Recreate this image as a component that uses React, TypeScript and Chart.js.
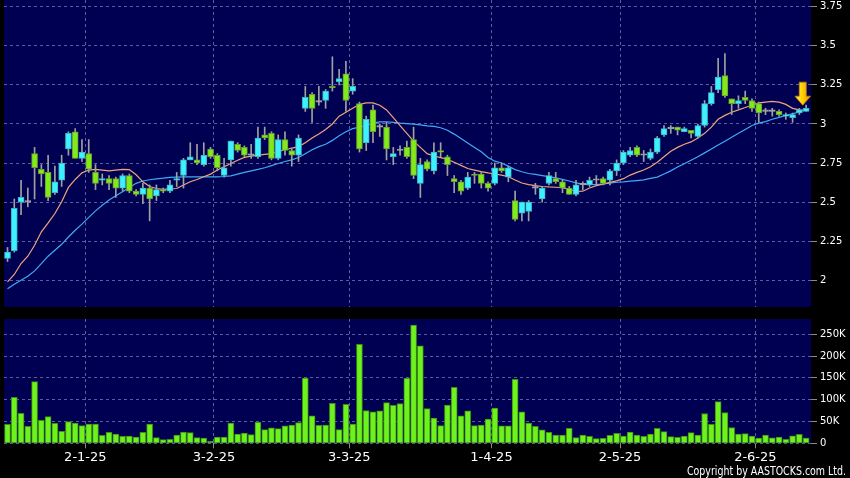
import React, { useEffect, useRef } from "react";
import { Chart, registerables } from "chart.js";

Chart.register(...registerables);

// ---- data (one entry per trading day, index 0..118) ----
const opens = [
  2.14, 2.19, 2.5, 2.5, 2.81, 2.71, 2.69, 2.56, 2.64, 2.84,
  2.95, 2.78, 2.81, 2.69, 2.64, 2.65, 2.65, 2.59, 2.67, 2.57,
  2.55, 2.59, 2.54, 2.58, 2.57, 2.64, 2.67, 2.77, 2.77, 2.74,
  2.84, 2.8, 2.67, 2.77, 2.87, 2.85, 2.8, 2.79, 2.93, 2.94,
  2.78, 2.9, 2.83, 2.8, 3.1, 3.19, 3.14, 3.15, 3.24, 3.27,
  3.32, 3.21, 3.13, 2.88, 3.09, 2.98, 2.98, 2.79, 2.83, 2.85,
  2.9, 2.62, 2.76, 2.7, 2.83, 2.79, 2.65, 2.63, 2.59, 2.68,
  2.68, 2.62, 2.62, 2.72, 2.66, 2.51, 2.43, 2.44, 2.59, 2.52,
  2.62, 2.65, 2.63, 2.59, 2.55, 2.61, 2.61, 2.64, 2.65, 2.64,
  2.7, 2.75, 2.8, 2.85, 2.8, 2.78, 2.82, 2.93, 2.97, 2.98,
  2.95, 2.96, 2.92, 2.99, 3.13, 3.22, 3.31, 3.16, 3.13, 3.17,
  3.15, 3.13, 3.08, 3.08, 3.08, 3.05, 3.04, 3.07, 3.08,
];
const highs = [
  2.21, 2.52, 2.64, 2.59, 2.85, 2.74, 2.8, 2.73, 2.8, 2.95,
  2.97, 2.9, 2.9, 2.74, 2.68, 2.67, 2.66, 2.68, 2.68, 2.58,
  2.62, 2.61, 2.61, 2.59, 2.64, 2.69, 2.78, 2.88, 2.87, 2.88,
  2.85, 2.81, 2.78, 2.89, 2.88, 2.86, 2.87, 2.98, 2.98, 2.95,
  2.93, 2.95, 2.84, 2.93, 3.24, 3.2, 3.24, 3.22, 3.43, 3.35,
  3.4, 3.29, 3.14, 3.05, 3.12, 3.0, 3.01, 2.85, 2.86, 2.89,
  2.98, 2.78, 2.77, 2.88, 2.88, 2.8, 2.67, 2.64, 2.69, 2.69,
  2.69, 2.63, 2.75, 2.75, 2.73, 2.57, 2.5, 2.51, 2.62, 2.6,
  2.69, 2.69, 2.64, 2.6, 2.64, 2.63, 2.66, 2.67, 2.66, 2.71,
  2.77, 2.83, 2.85, 2.86, 2.83, 2.84, 2.92, 2.99, 2.99, 2.98,
  2.98, 2.96, 3.0, 3.15, 3.24, 3.42, 3.45, 3.16, 3.18, 3.21,
  3.16, 3.14, 3.1, 3.1, 3.09, 3.07, 3.07, 3.1, 3.12,
];
const lows = [
  2.12, 2.18, 2.42, 2.47, 2.52, 2.6, 2.51, 2.55, 2.6, 2.8,
  2.78, 2.76, 2.69, 2.58, 2.61, 2.58, 2.53, 2.57, 2.56, 2.54,
  2.49, 2.38, 2.51, 2.56, 2.56, 2.6, 2.59, 2.77, 2.74, 2.73,
  2.78, 2.7, 2.66, 2.73, 2.82, 2.79, 2.78, 2.78, 2.9, 2.77,
  2.77, 2.8, 2.73, 2.76, 3.08, 3.01, 3.12, 3.1, 3.21, 3.25,
  3.08, 3.19, 2.82, 2.83, 2.88, 2.92, 2.77, 2.74, 2.8, 2.78,
  2.65, 2.53, 2.7, 2.68, 2.79, 2.67, 2.56, 2.55, 2.58, 2.62,
  2.59, 2.57, 2.61, 2.69, 2.63, 2.38, 2.38, 2.38, 2.55, 2.5,
  2.61, 2.62, 2.56, 2.55, 2.54, 2.58, 2.6, 2.61, 2.61, 2.61,
  2.67, 2.74, 2.79, 2.79, 2.76, 2.77, 2.81, 2.92, 2.94, 2.93,
  2.95, 2.91, 2.91, 2.98, 3.12, 3.2, 3.17, 3.06, 3.1, 3.13,
  3.08, 3.01, 3.06, 3.05, 3.05, 3.03, 3.01, 3.06, 3.08,
];
const closes = [
  2.18, 2.46, 2.53, 2.5, 2.72, 2.68, 2.53, 2.63, 2.75, 2.94,
  2.78, 2.82, 2.71, 2.62, 2.65, 2.62, 2.59, 2.67, 2.57, 2.55,
  2.59, 2.52, 2.58, 2.57, 2.61, 2.65, 2.77, 2.79, 2.75, 2.8,
  2.79, 2.72, 2.72, 2.89, 2.83, 2.8, 2.8, 2.91, 2.91, 2.78,
  2.9, 2.83, 2.8, 2.91, 3.17, 3.1, 3.14, 3.21, 3.23, 3.29,
  3.15, 3.24, 2.84, 3.03, 2.95, 2.98, 2.84, 2.81, 2.83, 2.79,
  2.67, 2.74, 2.71, 2.82, 2.82, 2.74, 2.63, 2.57, 2.66, 2.67,
  2.62, 2.59, 2.72, 2.7, 2.72, 2.39, 2.5, 2.5, 2.59, 2.59,
  2.67, 2.63, 2.59, 2.55, 2.61, 2.61, 2.64, 2.64, 2.62, 2.7,
  2.75, 2.82, 2.83, 2.8, 2.8, 2.82, 2.91, 2.97, 2.97, 2.96,
  2.97, 2.94, 2.99, 3.13, 3.2, 3.3, 3.18, 3.13, 3.15, 3.15,
  3.1, 3.07, 3.08, 3.08, 3.06, 3.06, 3.06, 3.09, 3.1,
];
const volumes = [
  43600, 105500, 68800, 39000, 141400, 52700, 61200, 45900, 27500, 49700,
  46600, 40500, 44300, 44300, 18300, 25200, 21400, 16000, 16800, 14500,
  25200, 44300, 13000, 8400, 9200, 19100, 26000, 24500, 13000, 12200,
  4600, 14500, 14500, 46600, 21400, 23700, 19900, 48200, 31300, 35200,
  33600, 39800, 42000, 47400, 149800, 62700, 41300, 42000, 91700, 31300,
  89400, 44300, 227000, 74900, 71900, 74200, 93300, 87200, 91000, 149000,
  271000, 223500, 79500, 58100, 40500, 87900, 128400, 62700, 74200, 40500,
  42000, 55800, 81000, 39800, 39800, 146800, 71900, 46600, 39000, 30600,
  25200, 19100, 19100, 34400, 13000, 19100, 16000, 10700, 11500, 18300,
  22900, 16800, 26000, 19100, 16000, 21400, 34400, 26800, 15300, 13800,
  16800, 24500, 19100, 68400, 43600, 95600, 70700, 35900, 21000, 22500,
  16800, 12000, 19100, 12600, 14500, 9200, 17000, 20600, 12000,
];
const maShort = [
  1.99, 2.037, 2.107, 2.154, 2.224, 2.31, 2.367, 2.427, 2.502, 2.594,
  2.645, 2.687, 2.705, 2.71, 2.705, 2.7, 2.705, 2.71, 2.708, 2.675,
  2.63, 2.6, 2.587, 2.581, 2.585, 2.587, 2.609, 2.63, 2.645, 2.662,
  2.679, 2.705, 2.726, 2.747, 2.768, 2.786, 2.794, 2.8, 2.805, 2.81,
  2.825, 2.835, 2.845, 2.855, 2.88, 2.91, 2.935, 2.965, 3.0, 3.05,
  3.075, 3.1, 3.125, 3.135, 3.135, 3.12, 3.09, 3.04, 2.99, 2.94,
  2.89, 2.85, 2.81, 2.795, 2.785, 2.773, 2.755, 2.735, 2.715, 2.705,
  2.695, 2.687, 2.68, 2.673, 2.662, 2.641, 2.622, 2.612, 2.605, 2.6,
  2.597, 2.595, 2.592, 2.582, 2.568, 2.57, 2.59, 2.605, 2.615, 2.626,
  2.636, 2.65, 2.673, 2.69, 2.705, 2.726, 2.755, 2.79, 2.825, 2.85,
  2.87, 2.885, 2.91, 2.94, 2.98, 3.03, 3.055, 3.075, 3.09, 3.105,
  3.12, 3.135, 3.14, 3.145, 3.14, 3.125, 3.1, 3.09, 3.088,
];
const maLong = [
  1.945, 1.975, 2.0, 2.026, 2.06, 2.107, 2.154, 2.192, 2.23, 2.277,
  2.32, 2.359, 2.402, 2.444, 2.48, 2.513, 2.54, 2.566, 2.594, 2.62,
  2.635, 2.643, 2.649, 2.653, 2.658, 2.66, 2.662, 2.662, 2.662, 2.662,
  2.662, 2.662, 2.664, 2.668, 2.679, 2.69, 2.7, 2.709, 2.72, 2.733,
  2.747, 2.76, 2.77, 2.785, 2.81, 2.835, 2.855, 2.87, 2.895, 2.925,
  2.95, 2.97, 2.98, 2.99, 3.005, 3.013, 3.014, 3.01, 3.005, 3.002,
  2.999, 2.994, 2.988, 2.984, 2.976, 2.96, 2.935, 2.907, 2.878, 2.85,
  2.822, 2.785, 2.762, 2.75, 2.73, 2.708, 2.694, 2.683, 2.677, 2.67,
  2.663, 2.655, 2.645, 2.635, 2.623, 2.615, 2.612, 2.613, 2.616, 2.622,
  2.627, 2.63, 2.634, 2.638, 2.642, 2.652, 2.66, 2.68, 2.7, 2.725,
  2.745, 2.768, 2.79, 2.815, 2.84, 2.865, 2.89, 2.915, 2.94, 2.965,
  2.99, 3.005, 3.015, 3.03, 3.042, 3.055, 3.065, 3.078, 3.09,
];

// x-axis date ticks: index of first trading day of each month shown
const dateTickIndex = [11, 30, 50, 71, 90, 110];
const dateTickLabels = ["2-1-25", "3-2-25", "3-3-25", "1-4-25", "2-5-25", "2-6-25"];
const priceTicks = [2, 2.25, 2.5, 2.75, 3, 3.25, 3.5, 3.75];
const priceTickLabels = ["2", "2.25", "2.5", "2.75", "3", "3.25", "3.5", "3.75"];
const volumeTicks = [0, 50000, 100000, 150000, 200000, 250000];
const volumeTickLabels = ["0", "50K", "100K", "150K", "200K", "250K"];
const copyrightText = "Copyright by AASTOCKS.com Ltd.";

// ---- styles ----
const NAVY = "#000052";
const GRID = "#5c5c9e";
const UP_FILL = "#3ff0ff";
const UP_EDGE = "#38b8c4";
const DOWN_FILL = "#80ea1a";
const DOWN_EDGE = "#6c9a34";
const DOJI = "#a8a8a8";
const WICK = "#a0a0a0";
const MA_SHORT_COLOR = "#f0a47c";
const MA_LONG_COLOR = "#40aaf2";
const VOL_FILL = "#6ef21e";
const VOL_EDGE = "#3e8e12";
const TICK_MARK = "#8a8a8a";

const W = 850;
const PRICE_H = 307;
const VOL_H = 171;
const X_MIN = -0.52;
const X_MAX = 118.72;

const navyBg = {
  id: "navyBg",
  beforeDraw(chart: any) {
    const { ctx, chartArea: a } = chart;
    ctx.save();
    ctx.fillStyle = NAVY;
    ctx.fillRect(a.left, a.top, a.right - a.left, a.bottom - a.top);
    ctx.restore();
  },
};

const arrowPlugin = {
  id: "lastArrow",
  afterDatasetsDraw(chart: any) {
    const { ctx } = chart;
    const xs = chart.scales.x;
    const ys = chart.scales.y;
    const last = closes.length - 1;
    const cx = xs.getPixelForValue(last - 0.5);
    const tip = ys.getPixelForValue(highs[last]);
    ctx.save();
    const g = ctx.createLinearGradient(cx - 7.5, 0, cx + 7.5, 0);
    g.addColorStop(0, "#fff07a");
    g.addColorStop(0.45, "#ffd400");
    g.addColorStop(1, "#e89a00");
    ctx.beginPath();
    ctx.moveTo(cx - 3.5, tip - 23);
    ctx.lineTo(cx + 3.5, tip - 23);
    ctx.lineTo(cx + 3.5, tip - 9);
    ctx.lineTo(cx + 7.8, tip - 9);
    ctx.lineTo(cx, tip);
    ctx.lineTo(cx - 7.8, tip - 9);
    ctx.lineTo(cx - 3.5, tip - 9);
    ctx.closePath();
    ctx.fillStyle = g;
    ctx.fill();
    ctx.strokeStyle = "#c88000";
    ctx.lineWidth = 0.8;
    ctx.stroke();
    ctx.restore();
  },
};

const copyrightPlugin = {
  id: "copyright",
  afterDraw(chart: any) {
    const { ctx } = chart;
    ctx.save();
    ctx.fillStyle = "#ffffff";
    ctx.font = '12px "DejaVu Sans Condensed", "DejaVu Sans", sans-serif';
    ctx.textAlign = "right";
    ctx.textBaseline = "alphabetic";
    ctx.fillText(copyrightText, 846, 168, 159);
    ctx.restore();
  },
};

function xAxis(withLabels: boolean) {
  return {
    type: "linear",
    min: X_MIN,
    max: X_MAX,
    offset: false,
    afterBuildTicks: (s: any) => {
      s.ticks = dateTickIndex.map((i) => ({ value: i + 0.5 }));
    },
    afterFit: (s: any) => {
      s.height = withLabels ? 34.7 : 0;
      s.paddingLeft = 0;
      s.paddingRight = 0;
    },
    ticks: {
      display: withLabels,
      autoSkip: false,
      maxRotation: 0,
      minRotation: 0,
      padding: 2,
      color: "#ffffff",
      font: { family: "DejaVu Sans", size: 13 },
      callback: (_v: any, idx: number) => dateTickLabels[idx],
    },
    grid: {
      display: true,
      offset: false,
      color: GRID,
      lineWidth: 1,
      drawTicks: withLabels,
      tickLength: 5,
      tickColor: TICK_MARK,
      tickWidth: 1,
    },
    border: { display: false, dash: [3, 3] },
  };
}

function yAxis(min: number, max: number, ticks: number[], labels: string[]) {
  return {
    type: "linear",
    position: "right",
    min,
    max,
    beginAtZero: false,
    afterBuildTicks: (s: any) => {
      s.ticks = ticks.map((v) => ({ value: v }));
    },
    afterFit: (s: any) => {
      s.width = 39;
      s.paddingTop = 0;
      s.paddingBottom = 0;
    },
    ticks: {
      color: "#ffffff",
      padding: 3,
      font: { family: "DejaVu Sans", size: 10 },
      callback: (_v: any, idx: number) => labels[idx],
    },
    grid: {
      color: GRID,
      lineWidth: 1,
      drawTicks: true,
      tickLength: 6,
      tickColor: TICK_MARK,
    },
    border: { display: false, dash: [3, 3] },
  };
}

const candleColor = (i: number, up: string, down: string) =>
  closes[i] > opens[i] ? up : closes[i] < opens[i] ? down : DOJI;

export default function App() {
  const priceRef = useRef<HTMLCanvasElement | null>(null);
  const volRef = useRef<HTMLCanvasElement | null>(null);

  useEffect(() => {
    const idx = closes.map((_, i) => i);
    const priceChart = new Chart(priceRef.current as HTMLCanvasElement, {
      type: "bar",
      data: {
        datasets: [
          {
            type: "line",
            data: idx.map((i) => ({ x: i, y: maLong[i] })),
            borderColor: MA_LONG_COLOR,
            borderWidth: 1.2,
            pointRadius: 0,
            tension: 0,
            order: 5,
          } as any,
          {
            type: "line",
            data: idx.map((i) => ({ x: i, y: maShort[i] })),
            borderColor: MA_SHORT_COLOR,
            borderWidth: 1.2,
            pointRadius: 0,
            tension: 0,
            order: 4,
          } as any,
          {
            type: "bar",
            data: idx.map((i) => ({ x: i, y: [lows[i], highs[i]] })),
            backgroundColor: WICK,
            borderWidth: 0,
            barThickness: 1,
            grouped: false,
            order: 3,
          } as any,
          {
            type: "bar",
            data: idx.map((i) => ({ x: i, y: [opens[i], closes[i]] })),
            backgroundColor: (c: any) => candleColor(c.dataIndex, UP_FILL, DOWN_FILL),
            borderColor: (c: any) => candleColor(c.dataIndex, UP_EDGE, DOWN_EDGE),
            borderWidth: 1,
            borderSkipped: false,
            barThickness: 6,
            minBarLength: 1.5,
            grouped: false,
            order: 2,
          } as any,
        ],
      },
      options: {
        responsive: false,
        maintainAspectRatio: false,
        animation: false,
        events: [],
        layout: { padding: { left: 4, top: 0, right: 0, bottom: 0 } },
        plugins: { legend: { display: false }, tooltip: { enabled: false } },
        scales: {
          x: xAxis(false) as any,
          y: yAxis(1.829, 3.793, priceTicks, priceTickLabels) as any,
        },
      },
      plugins: [navyBg, arrowPlugin],
    });

    const volChart = new Chart(volRef.current as HTMLCanvasElement, {
      type: "bar",
      data: {
        datasets: [
          {
            data: idx.map((i) => ({ x: i, y: volumes[i] })),
            backgroundColor: VOL_FILL,
            borderColor: VOL_EDGE,
            borderWidth: 1,
            borderSkipped: false,
            barThickness: 6,
            grouped: false,
          } as any,
        ],
      },
      options: {
        responsive: false,
        maintainAspectRatio: false,
        animation: false,
        events: [],
        layout: { padding: { left: 4, top: 12, right: 0, bottom: 0 } },
        plugins: { legend: { display: false }, tooltip: { enabled: false } },
        scales: {
          x: xAxis(true) as any,
          y: yAxis(0, 285000, volumeTicks, volumeTickLabels) as any,
        },
      },
      plugins: [navyBg, copyrightPlugin],
    });

    return () => {
      priceChart.destroy();
      volChart.destroy();
    };
  }, []);

  return (
    <div
      style={{
        position: "fixed",
        left: 0,
        top: 0,
        width: W,
        height: PRICE_H + VOL_H,
        background: "#000000",
        overflow: "hidden",
      }}
    >
      <canvas
        ref={priceRef}
        width={W}
        height={PRICE_H}
        style={{ position: "absolute", left: 0, top: 0, width: W, height: PRICE_H }}
      />
      <canvas
        ref={volRef}
        width={W}
        height={VOL_H}
        style={{ position: "absolute", left: 0, top: PRICE_H, width: W, height: VOL_H }}
      />
    </div>
  );
}
